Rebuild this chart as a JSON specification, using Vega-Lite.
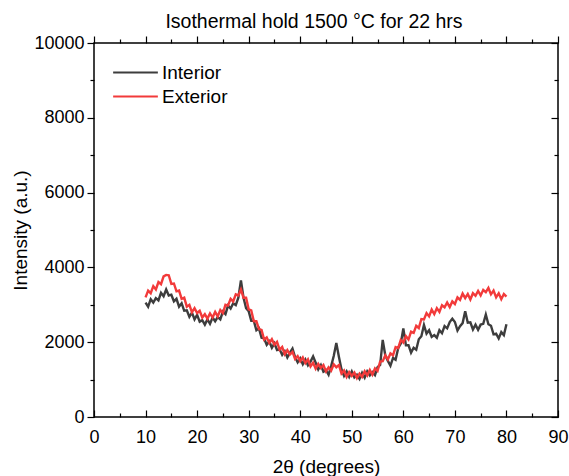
{
  "$schema": "https://vega.github.io/schema/vega-lite/v6.json",
  "width": 464,
  "height": 374,
  "autosize": "none",
  "padding": {"left": 94, "top": 43, "right": 11, "bottom": 59},
  "background": "white",
  "config": {
    "font": "Liberation Sans",
    "view": {"stroke": "black", "strokeWidth": 1.5}
  },
  "title": {
    "text": "Isothermal hold 1500 °C for 22 hrs",
    "fontSize": 19.5,
    "fontWeight": "normal",
    "color": "black",
    "anchor": "middle",
    "frame": "group",
    "offset": 2,
    "dx": -12
  },
  "datasets": {
    "int": [
      {"t":10,"v":3060},{"t":10.5,"v":2950},{"t":11,"v":3150},{"t":11.5,"v":3060},{"t":12,"v":3180},{"t":12.5,"v":3120},{"t":13,"v":3320},{"t":13.5,"v":3230},{"t":14,"v":3410},{"t":14.5,"v":3250},{"t":15,"v":3270},{"t":15.5,"v":3090},
      {"t":16,"v":3160},{"t":16.5,"v":2950},{"t":17,"v":3040},{"t":17.5,"v":2840},{"t":18,"v":2850},{"t":18.5,"v":2680},{"t":19,"v":2790},{"t":19.5,"v":2610},{"t":20,"v":2730},{"t":20.5,"v":2550},{"t":21,"v":2590},{"t":21.5,"v":2470},
      {"t":22,"v":2610},{"t":22.5,"v":2490},{"t":23,"v":2660},{"t":23.5,"v":2560},{"t":24,"v":2670},{"t":24.5,"v":2610},{"t":25,"v":2820},{"t":25.5,"v":2750},{"t":26,"v":2980},{"t":26.5,"v":2900},{"t":27,"v":3040},{"t":27.5,"v":2990},
      {"t":28,"v":3190},{"t":28.5,"v":3650},{"t":29,"v":3190},{"t":29.5,"v":2910},{"t":30,"v":2830},{"t":30.5,"v":2570},{"t":31,"v":2570},{"t":31.5,"v":2320},{"t":32,"v":2370},{"t":32.5,"v":2120},{"t":33,"v":2100},{"t":33.5,"v":1930},
      {"t":34,"v":2020},{"t":34.5,"v":1850},{"t":35,"v":1970},{"t":35.5,"v":1790},{"t":36,"v":1810},{"t":36.5,"v":1660},{"t":37,"v":1760},{"t":37.5,"v":1590},{"t":38,"v":1720},{"t":38.5,"v":1830},{"t":39,"v":1600},{"t":39.5,"v":1460},
      {"t":40,"v":1570},{"t":40.5,"v":1410},{"t":41,"v":1540},{"t":41.5,"v":1380},{"t":42,"v":1480},{"t":42.5,"v":1620},{"t":43,"v":1450},{"t":43.5,"v":1270},{"t":44,"v":1390},{"t":44.5,"v":1210},{"t":45,"v":1250},{"t":45.5,"v":1130},
      {"t":46,"v":1360},{"t":46.5,"v":1630},{"t":47,"v":1980},{"t":47.5,"v":1610},{"t":48,"v":1280},{"t":48.5,"v":1100},{"t":49,"v":1220},{"t":49.5,"v":1070},{"t":50,"v":1220},{"t":50.5,"v":1060},{"t":51,"v":1130},{"t":51.5,"v":1020},
      {"t":52,"v":1180},{"t":52.5,"v":1050},{"t":53,"v":1220},{"t":53.5,"v":1110},{"t":54,"v":1200},{"t":54.5,"v":1120},{"t":55,"v":1330},{"t":55.5,"v":1390},{"t":56,"v":2060},{"t":56.5,"v":1650},{"t":57,"v":1500},{"t":57.5,"v":1370},
      {"t":58,"v":1580},{"t":58.5,"v":1530},{"t":59,"v":1840},{"t":59.5,"v":1960},{"t":60,"v":2370},{"t":60.5,"v":1920},{"t":61,"v":1920},{"t":61.5,"v":1720},{"t":62,"v":1850},{"t":62.5,"v":1800},{"t":63,"v":2080},{"t":63.5,"v":2160},
      {"t":64,"v":2460},{"t":64.5,"v":2230},{"t":65,"v":2320},{"t":65.5,"v":2140},{"t":66,"v":2190},{"t":66.5,"v":2120},{"t":67,"v":2320},{"t":67.5,"v":2240},{"t":68,"v":2430},{"t":68.5,"v":2370},{"t":69,"v":2540},{"t":69.5,"v":2630},
      {"t":70,"v":2540},{"t":70.5,"v":2310},{"t":71,"v":2430},{"t":71.5,"v":2510},{"t":72,"v":2830},{"t":72.5,"v":2520},{"t":73,"v":2530},{"t":73.5,"v":2340},{"t":74,"v":2470},{"t":74.5,"v":2330},{"t":75,"v":2470},{"t":75.5,"v":2490},
      {"t":76,"v":2740},{"t":76.5,"v":2480},{"t":77,"v":2440},{"t":77.5,"v":2210},{"t":78,"v":2230},{"t":78.5,"v":2100},{"t":79,"v":2270},{"t":79.5,"v":2190},{"t":80,"v":2480}
    ],
    "ext": [
      {"t":10,"v":3200},{"t":10.5,"v":3380},{"t":11,"v":3310},{"t":11.5,"v":3500},{"t":12,"v":3410},{"t":12.5,"v":3610},{"t":13,"v":3550},{"t":13.5,"v":3760},{"t":14,"v":3800},{"t":14.5,"v":3790},{"t":15,"v":3560},{"t":15.5,"v":3570},
      {"t":16,"v":3360},{"t":16.5,"v":3380},{"t":17,"v":3160},{"t":17.5,"v":3190},{"t":18,"v":2950},{"t":18.5,"v":3000},{"t":19,"v":2800},{"t":19.5,"v":2910},{"t":20,"v":2780},{"t":20.5,"v":2840},{"t":21,"v":2660},{"t":21.5,"v":2750},
      {"t":22,"v":2630},{"t":22.5,"v":2770},{"t":23,"v":2660},{"t":23.5,"v":2810},{"t":24,"v":2690},{"t":24.5,"v":2860},{"t":25,"v":2780},{"t":25.5,"v":3000},{"t":26,"v":2980},{"t":26.5,"v":3160},{"t":27,"v":3090},{"t":27.5,"v":3280},
      {"t":28,"v":3250},{"t":28.5,"v":3410},{"t":29,"v":3190},{"t":29.5,"v":3190},{"t":30,"v":2880},{"t":30.5,"v":2850},{"t":31,"v":2560},{"t":31.5,"v":2560},{"t":32,"v":2350},{"t":32.5,"v":2330},{"t":33,"v":2070},{"t":33.5,"v":2130},
      {"t":34,"v":1980},{"t":34.5,"v":2080},{"t":35,"v":1930},{"t":35.5,"v":2010},{"t":36,"v":1800},{"t":36.5,"v":1870},{"t":37,"v":1680},{"t":37.5,"v":1790},{"t":38,"v":1670},{"t":38.5,"v":1740},{"t":39,"v":1550},{"t":39.5,"v":1630},
      {"t":40,"v":1490},{"t":40.5,"v":1590},{"t":41,"v":1440},{"t":41.5,"v":1540},{"t":42,"v":1350},{"t":42.5,"v":1450},{"t":43,"v":1290},{"t":43.5,"v":1420},{"t":44,"v":1310},{"t":44.5,"v":1390},{"t":45,"v":1220},{"t":45.5,"v":1330},
      {"t":46,"v":1240},{"t":46.5,"v":1410},{"t":47,"v":1330},{"t":47.5,"v":1390},{"t":48,"v":1160},{"t":48.5,"v":1240},{"t":49,"v":1070},{"t":49.5,"v":1200},{"t":50,"v":1100},{"t":50.5,"v":1190},{"t":51,"v":1040},{"t":51.5,"v":1160},
      {"t":52,"v":1070},{"t":52.5,"v":1220},{"t":53,"v":1110},{"t":53.5,"v":1260},{"t":54,"v":1130},{"t":54.5,"v":1300},{"t":55,"v":1230},{"t":55.5,"v":1480},{"t":56,"v":1490},{"t":56.5,"v":1650},{"t":57,"v":1540},{"t":57.5,"v":1700},
      {"t":58,"v":1650},{"t":58.5,"v":1870},{"t":59,"v":1840},{"t":59.5,"v":2060},{"t":60,"v":1990},{"t":60.5,"v":2160},{"t":61,"v":2070},{"t":61.5,"v":2280},{"t":62,"v":2250},{"t":62.5,"v":2440},{"t":63,"v":2380},{"t":63.5,"v":2620},
      {"t":64,"v":2610},{"t":64.5,"v":2780},{"t":65,"v":2690},{"t":65.5,"v":2870},{"t":66,"v":2750},{"t":66.5,"v":2910},{"t":67,"v":2810},{"t":67.5,"v":2990},{"t":68,"v":2930},{"t":68.5,"v":3060},{"t":69,"v":2940},{"t":69.5,"v":3090},
      {"t":70,"v":3020},{"t":70.5,"v":3200},{"t":71,"v":3130},{"t":71.5,"v":3300},{"t":72,"v":3180},{"t":72.5,"v":3290},{"t":73,"v":3140},{"t":73.5,"v":3310},{"t":74,"v":3240},{"t":74.5,"v":3370},{"t":75,"v":3250},{"t":75.5,"v":3400},
      {"t":76,"v":3340},{"t":76.5,"v":3450},{"t":77,"v":3280},{"t":77.5,"v":3380},{"t":78,"v":3200},{"t":78.5,"v":3310},{"t":79,"v":3150},{"t":79.5,"v":3290},{"t":80,"v":3220}
    ]
  },
  "layer": [
    {
      "data": {"name": "int"},
      "mark": {"type": "line", "strokeWidth": 2.4},
      "encoding": {
        "x": {
          "field": "t", "type": "quantitative",
          "scale": {"domain": [0, 90], "nice": false, "zero": false},
          "axis": {
            "orient": "bottom",
            "values": [0,5,10,15,20,25,30,35,40,45,50,55,60,65,70,75,80,85,90],
            "labelExpr": "datum.value % 10 === 0 ? datum.label : ''",
            "tickSize": {"condition": {"test": "datum.value % 10 === 0", "value": -7}, "value": -4},
            "tickColor": "black", "tickWidth": 1.2,
            "domain": false, "grid": false,
            "labelFontSize": 18, "labelColor": "black", "labelPadding": 18,
            "labelFlush": false, "labelOverlap": false,
            "title": "2θ (degrees)", "titleFontSize": 19, "titleFontWeight": "normal",
            "titleColor": "black", "titlePadding": 8
          }
        },
        "y": {
          "field": "v", "type": "quantitative",
          "scale": {"domain": [0, 10000], "nice": false},
          "axis": {
            "orient": "left",
            "values": [0,1000,2000,3000,4000,5000,6000,7000,8000,9000,10000],
            "format": "d",
            "labelExpr": "datum.value % 2000 === 0 ? datum.label : ''",
            "tickSize": {"condition": {"test": "datum.value % 2000 === 0", "value": 7}, "value": 4},
            "tickColor": "black", "tickWidth": 1.2,
            "domain": false, "grid": false,
            "labelFontSize": 18, "labelColor": "black", "labelPadding": 3,
            "labelFlush": false, "labelOverlap": false,
            "title": "Intensity (a.u.)", "titleFontSize": 19, "titleFontWeight": "normal",
            "titleColor": "black", "titlePadding": 3
          }
        },
        "color": {
          "datum": "Interior", "type": "nominal",
          "scale": {"domain": ["Interior", "Exterior"], "range": ["#3d3d3d", "#f23a3a"]},
          "legend": {
            "orient": "none", "legendX": 18, "legendY": 18, "title": null,
            "symbolType": "stroke", "symbolSize": 2000, "symbolStrokeWidth": 2,
            "labelFontSize": 19, "labelColor": "black", "labelOffset": 3,
            "clipHeight": 23, "rowPadding": 1, "padding": 0
          }
        }
      }
    },
    {
      "data": {"name": "ext"},
      "mark": {"type": "line", "strokeWidth": 2.4},
      "encoding": {
        "x": {"field": "t", "type": "quantitative", "axis": null},
        "y": {"field": "v", "type": "quantitative", "axis": null},
        "color": {"datum": "Exterior", "type": "nominal"}
      }
    },
    {
      "data": {"name": "ext"},
      "mark": {"type": "line", "opacity": 0},
      "encoding": {
        "x": {
          "field": "t", "type": "quantitative",
          "axis": {
            "orient": "top",
            "values": [0,5,10,15,20,25,30,35,40,45,50,55,60,65,70,75,80,85,90],
            "labels": false,
            "tickSize": {"condition": {"test": "datum.value % 10 === 0", "value": 7}, "value": 4},
            "tickColor": "black", "tickWidth": 1.2,
            "domain": false, "grid": false, "title": null
          }
        },
        "y": {
          "field": "v", "type": "quantitative",
          "axis": {
            "orient": "right",
            "values": [0,1000,2000,3000,4000,5000,6000,7000,8000,9000,10000],
            "labels": false,
            "tickSize": {"condition": {"test": "datum.value % 2000 === 0", "value": -7}, "value": -4},
            "tickColor": "black", "tickWidth": 1.2,
            "domain": false, "grid": false, "title": null
          }
        }
      }
    }
  ],
  "resolve": {"axis": {"x": "independent", "y": "independent"}}
}
